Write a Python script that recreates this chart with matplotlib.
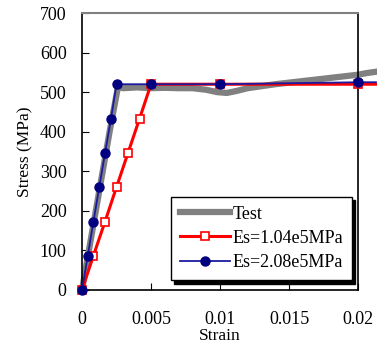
import matplotlib
matplotlib.use("Agg")
import matplotlib.pyplot as plt

plt.rcParams['font.family'] = ['Liberation Serif', 'DejaVu Serif']

# test curve
test_strain = [0, 0.0005, 0.001, 0.0015, 0.002, 0.0026, 0.003, 0.004, 0.005, 0.006, 0.007,
               0.008, 0.009, 0.0098, 0.0105, 0.0112, 0.012, 0.013, 0.014, 0.015, 0.016,
               0.017, 0.018, 0.019, 0.020, 0.0206, 0.0214]
test_stress = [0, 100, 200, 300, 400, 512, 510, 512, 510, 511, 510,
               510, 506, 500, 498, 503, 510, 515, 520, 524, 528,
               532, 536, 540, 544, 548, 552]

# model with Es = 1.04e5 MPa
red_strain = [0, 0.00083, 0.00167, 0.0025, 0.00333, 0.00417, 0.005, 0.01, 0.02, 0.0213]
red_stress = [0, 87, 173, 260, 346, 433, 520, 520, 520, 520]

# model with Es = 2.08e5 MPa
blue_strain = [0, 0.00042, 0.00083, 0.00125, 0.00167, 0.0021, 0.0025, 0.005, 0.01, 0.02, 0.0213]
blue_stress = [0, 87, 173, 260, 346, 433, 520, 520, 520, 525, 525]

fig = plt.figure(figsize=(3.77, 3.48), dpi=100)
ax = fig.add_axes([82 / 377, 1 - 290 / 348, 276 / 377, 277 / 348])

ax.plot(test_strain, test_stress, color='#808080', lw=4.5, label='Test', clip_on=False, zorder=2)
ax.plot(red_strain, red_stress, color='red', lw=2.2, marker='s', ms=6, mfc='white', mec='red',
        mew=1.2, markevery=list(range(len(red_strain) - 1)), label='Es=1.04e5MPa',
        clip_on=False, zorder=3)
ax.plot(blue_strain, blue_stress, color='#1a1aa0', lw=1.3, marker='o', ms=6.5, mfc='#000080',
        mec='#000080', markevery=list(range(len(blue_strain) - 1)), label='Es=2.08e5MPa',
        clip_on=False, zorder=4)

ax.set_xlim(0, 0.02)
ax.set_ylim(0, 700)
ax.set_xticks([0, 0.005, 0.01, 0.015, 0.02])
ax.set_xticklabels(['0', '0.005', '0.01', '0.015', '0.02'])
ax.set_yticks(range(0, 701, 100))
ax.tick_params(direction='in', length=5, labelsize=13)
ax.tick_params(axis='y', pad=11)
ax.tick_params(axis='x', pad=15)
ax.spines['top'].set_color('#808080')
ax.spines['top'].set_linewidth(1.5)
for s in ['left', 'bottom', 'right']:
    ax.spines[s].set_linewidth(1.2)

ax.set_xlabel('Strain', fontsize=12.5, labelpad=0)
ax.set_ylabel('Stress (MPa)', fontsize=12.5, labelpad=5)

leg = ax.legend(loc='lower right', bbox_to_anchor=(0.978, 0.036), fontsize=13,
                fancybox=False, edgecolor='black', framealpha=1, handlelength=2.8,
                handletextpad=0.1, borderpad=0.5, labelspacing=0.4, borderaxespad=0,
                shadow={'ox': 2, 'oy': -2.5, 'facecolor': 'black', 'edgecolor': 'black', 'alpha': 1})
leg.get_frame().set_linewidth(1.0)

fig.savefig('out.png', dpi=100)
